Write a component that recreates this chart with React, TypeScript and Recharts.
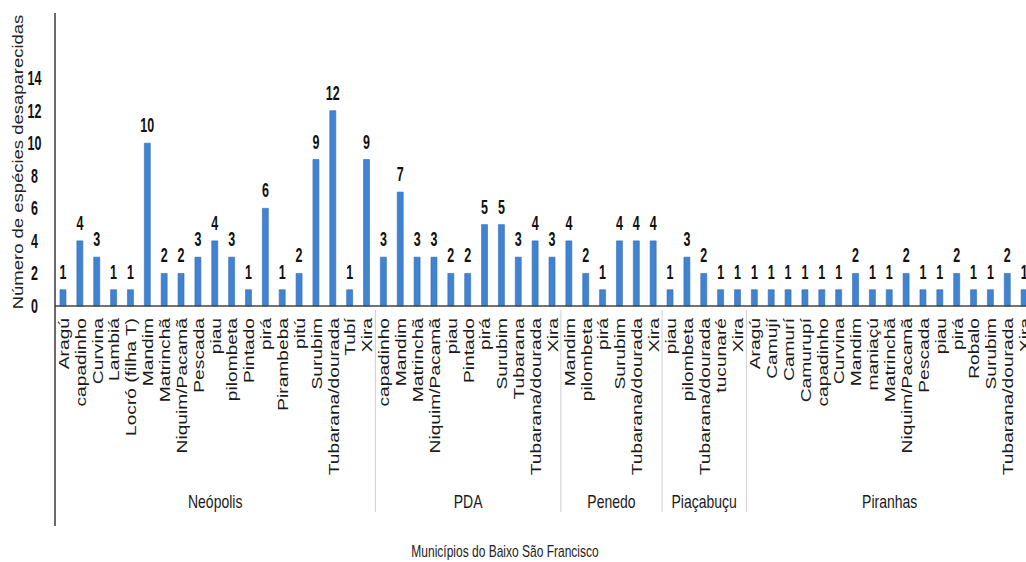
import React from 'react';
import { BarChart, Bar, XAxis, YAxis, LabelList } from 'recharts';

// municípios and the species that disappeared in each one
const MUNICIPIOS = ['Neópolis', 'PDA', 'Penedo', 'Piaçabuçu', 'Piranhas'];

const NEOPOLIS_ESPECIES = [
  'Aragú', 'capadinho', 'Curvina', 'Lambiá', 'Locró (filha T)', 'Mandim', 'Matrinchã',
  'Niquim/Pacamã', 'Pescada', 'piau', 'pilombeta', 'Pintado', 'pirá', 'Pirambeba', 'pitú',
  'Surubim', 'Tubarana/dourada', 'Tubí', 'Xira',
];
const NEOPOLIS_VALORES = [1, 4, 3, 1, 1, 10, 2, 2, 3, 4, 3, 1, 6, 1, 2, 9, 12, 1, 9];

const PDA_ESPECIES = [
  'capadinho', 'Mandim', 'Matrinchã', 'Niquim/Pacamã', 'piau', 'Pintado', 'pirá', 'Surubim',
  'Tubarana', 'Tubarana/dourada', 'Xira',
];
const PDA_VALORES = [3, 7, 3, 3, 2, 2, 5, 5, 3, 4, 3];

const PENEDO_ESPECIES = ['Mandim', 'pilombeta', 'pirá', 'Surubim', 'Tubarana/dourada', 'Xira'];
const PENEDO_VALORES = [4, 2, 1, 4, 4, 4];

const PIACABUCU_ESPECIES = ['piau', 'pilombeta', 'Tubarana/dourada', 'tucunaré', 'Xira'];
const PIACABUCU_VALORES = [1, 3, 2, 1, 1];

const PIRANHAS_ESPECIES = [
  'Aragú', 'Camují', 'Camurí', 'Camurupí', 'capadinho', 'Curvina', 'Mandim', 'maniaçú',
  'Matrinchã', 'Niquim/Pacamã', 'Pescada', 'piau', 'pirá', 'Robalo', 'Surubim',
  'Tubarana/dourada', 'Xira',
];
const PIRANHAS_VALORES = [1, 1, 1, 1, 1, 1, 2, 1, 1, 2, 1, 1, 2, 1, 1, 2, 1];

const Y_TICKS = [0, 2, 4, 6, 8, 10, 12, 14];

const ESPECIES = [NEOPOLIS_ESPECIES, PDA_ESPECIES, PENEDO_ESPECIES, PIACABUCU_ESPECIES, PIRANHAS_ESPECIES];
const VALORES = [NEOPOLIS_VALORES, PDA_VALORES, PENEDO_VALORES, PIACABUCU_VALORES, PIRANHAS_VALORES];

const rows = MUNICIPIOS.flatMap((m, g) =>
  ESPECIES[g].map((especie, i) => ({
    id: `${m}|${especie}`,
    municipio: m,
    especie,
    valor: VALORES[g][i],
    first: i === 0,
    count: ESPECIES[g].length,
  }))
);
const rowById = new Map(rows.map((r, i) => [r.id, { ...r, index: i }]));

// layout: the chart is wider than the window, the last bar gets cut like the original
const CHART_W = 1040;
const CHART_H = 562;
const Y_AXIS_W = 55;
const RIGHT = 7;
const STEP = (CHART_W - Y_AXIS_W - RIGHT) / rows.length;
const FONT = "'Liberation Sans', Arial, sans-serif";

const SpeciesTick = (props: any) => {
  const { x, y, payload } = props;
  const row = rowById.get(payload.value);
  if (!row) return null;
  const left = x - STEP / 2;
  return (
    <g>
      <text
        transform={`translate(${x},${y + 4}) rotate(-90) scale(1.28,1)`}
        textAnchor="end"
        dy="0.36em"
        fontSize={15}
        fill="#1a1a1a"
        fontFamily={FONT}
      >
        {row.especie}
      </text>
      {row.index === 0 && (
        <line x1={left} x2={left} y1={y - 8} y2={y + 212} stroke="#3a3a3a" strokeWidth={1.5} />
      )}
      {row.first && row.index > 0 && (
        <line x1={left} x2={left} y1={y - 4} y2={y + 198} stroke="#cfcfcf" strokeWidth={1} />
      )}
      {row.first && (
        <text
          transform={`translate(${left + (row.count * STEP) / 2},${y + 194}) scale(1,1.3)`}
          textAnchor="middle"
          fontSize={14}
          fill="#1a1a1a"
          fontFamily={FONT}
        >
          {row.municipio}
        </text>
      )}
    </g>
  );
};

const ValueTick = (props: any) => {
  const { x, y, payload } = props;
  return (
    <text
      transform={`translate(${x - 12.5},${y + 7}) scale(1,1.65)`}
      textAnchor="middle"
      fontSize={12.5}
      fontWeight="bold"
      fill="#111"
      fontFamily={FONT}
    >
      {payload.value}
    </text>
  );
};

const ValueLabel = (props: any) => {
  const x = Number(props.x);
  const y = Number(props.y);
  const width = Number(props.width);
  return (
    <text
      transform={`translate(${x + width / 2},${y - 11}) scale(1,1.6)`}
      textAnchor="middle"
      fontSize={12.5}
      fontWeight="bold"
      fill="#111"
      fontFamily={FONT}
    >
      {props.value}
    </text>
  );
};

const YTitle = () => (
  <text
    transform="translate(18.5,162) rotate(-90) scale(1.32,1)"
    textAnchor="middle"
    dy="0.3em"
    fontSize={14}
    fill="#222"
    fontFamily={FONT}
  >
    Número de espécies desaparecidas
  </text>
);

const XTitle = () => (
  <text
    transform="translate(505,557) scale(1,1.35)"
    textAnchor="middle"
    fontSize={12}
    fill="#222"
    fontFamily={FONT}
  >
    Municípios do Baixo São Francisco
  </text>
);

export default function App() {
  return (
    <div
      style={{
        position: 'fixed',
        left: 0,
        top: 0,
        width: 1026,
        height: 562,
        overflow: 'hidden',
        background: '#fff',
      }}
    >
      <BarChart
        width={CHART_W}
        height={CHART_H}
        data={rows}
        margin={{ top: 13, right: RIGHT, left: 0, bottom: 6 }}
      >
        <XAxis
          dataKey="id"
          interval={0}
          height={250}
          tickLine={false}
          tick={<SpeciesTick />}
          axisLine={{ stroke: '#444', strokeWidth: 1.5 }}
          label={<XTitle />}
        />
        <YAxis
          width={Y_AXIS_W}
          domain={[0, 18]}
          ticks={Y_TICKS}
          interval={0}
          tickLine={false}
          tick={<ValueTick />}
          axisLine={{ stroke: '#3a3a3a', strokeWidth: 1.5 }}
          label={<YTitle />}
        />
        <Bar dataKey="valor" fill="#4183d0" stroke="#2f6cb6" strokeWidth={0.6} barSize={6} isAnimationActive={false}>
          <LabelList dataKey="valor" content={<ValueLabel />} />
        </Bar>
      </BarChart>
    </div>
  );
}
